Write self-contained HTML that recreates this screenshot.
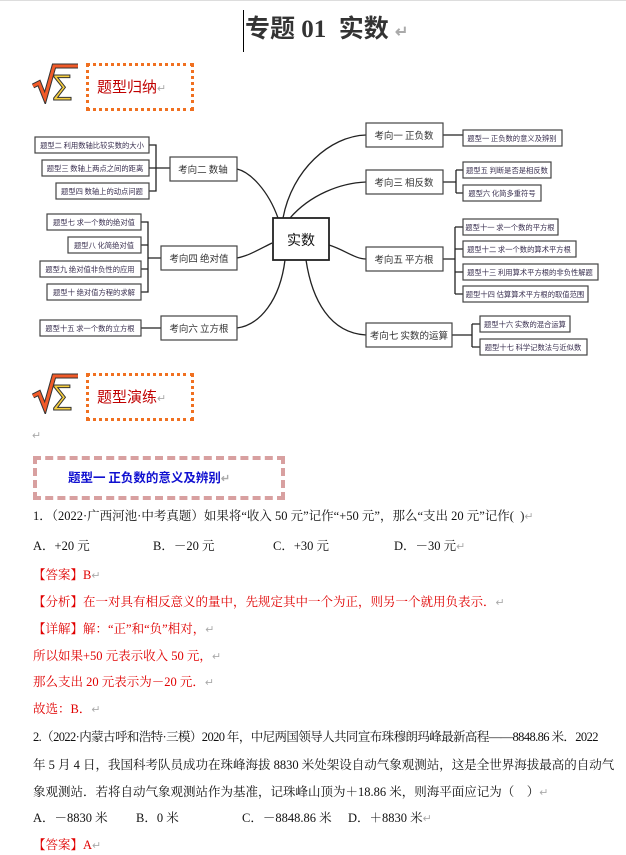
<!DOCTYPE html>
<html><head><meta charset="utf-8"><style>
body{margin:0;width:626px;height:855px;background:#fff;position:relative;overflow:hidden;font-family:"Liberation Serif","Noto Serif CJK SC","Noto Sans CJK SC",serif;}
.t{position:absolute;white-space:nowrap;font-size:12.5px;line-height:16px;color:#111;}
.r{color:#e00000;}
.pm{color:#aaa;font-size:11px;}
.hd{position:absolute;border:3px dotted #f07020;}
.hdt{position:absolute;color:#c00000;font-size:15px;font-family:"Noto Sans CJK SC",sans-serif;white-space:nowrap;}
svg text{font-family:"Noto Sans CJK SC",sans-serif;}
</style></head><body>
<div style="position:absolute;left:0;top:0;width:626px;height:1px;background:#ddd"></div>
<div style="position:absolute;left:243px;top:10px;width:1px;height:42px;background:#000"></div>
<div class="t" style="left:245px;top:14px;font-size:25px;line-height:32px;font-weight:bold;color:#333;font-family:'Liberation Serif','Noto Sans CJK SC',serif">专题 01&nbsp; 实数 <span class="pm" style="font-size:16px">↵</span></div>

<svg style="position:absolute;left:30px;top:62px" width="50" height="42" viewBox="0 0 50 42">
<path d="M3 24 L9 21 L15 36 L24 4 L48 4" fill="none" stroke="#333" stroke-width="5"/>
<path d="M3 24 L9 21 L15 36 L24 4 L48 4" fill="none" stroke="#f05a28" stroke-width="3"/>
<text x="22" y="38" font-size="34" fill="#f8d040" stroke="#333" stroke-width="1" font-family="Liberation Serif">Σ</text></svg>
<div class="hd" style="left:86px;top:63px;width:102px;height:42px"></div>
<div class="hdt" style="left:97px;top:76px">题型归纳<span class="pm">↵</span></div>

<svg style="position:absolute;left:0;top:110px" width="626" height="250" viewBox="0 110 626 250" font-size="7.3" fill="#333">
<g fill="none" stroke="#222" stroke-width="1.3">
<path d="M278 218 C268 190 250 172 237 169"/>
<path d="M272 243 C258 250 248 256 237 258"/>
<path d="M285 260 C280 300 260 325 237 328"/>
<path d="M283 218 C292 170 330 136 366 135"/>
<path d="M290 218 C310 195 340 183 366 182"/>
<path d="M329 245 C345 250 355 259 366 259"/>
<path d="M306 260 C312 300 330 333 366 335"/>
<path d="M149 145 H156 V191 H149 M149 168 H170"/>
<path d="M141 222 H148 V292 H141 M141 245 H148 M141 269 H148 M148 258 H161"/>
<path d="M141 328 H161"/>
<path d="M443 135 H463"/>
<path d="M443 182 H456 M456 170 V193 M456 170 H463 M456 193 H463"/>
<path d="M443 259 H455 M455 227 V294 M455 227 H463 M455 249 H463 M455 272 H463 M455 294 H463"/>
<path d="M452 335 H472 M472 324 V347 M472 324 H480 M472 347 H480"/>
</g>
<g fill="#fff" stroke="#444" stroke-width="1.2">
<rect x="273" y="218" width="56" height="42" stroke-width="1.8" stroke="#222"/>
<rect x="170" y="157" width="67" height="24"/><rect x="161" y="246" width="76" height="24"/><rect x="161" y="316" width="76" height="24"/>
<rect x="366" y="123" width="77" height="24"/><rect x="366" y="170" width="77" height="24"/><rect x="366" y="247" width="77" height="24"/><rect x="366" y="323" width="86" height="24"/>
<rect x="35" y="137" width="114" height="16"/><rect x="42" y="160" width="107" height="16"/><rect x="56" y="183" width="93" height="16"/>
<rect x="47" y="214" width="94" height="16"/><rect x="68" y="237" width="73" height="16"/><rect x="40" y="261" width="101" height="16"/><rect x="47" y="284" width="94" height="16"/>
<rect x="40" y="320" width="101" height="16"/>
<rect x="463" y="130" width="99" height="16"/><rect x="463" y="162" width="88" height="16"/><rect x="463" y="185" width="78" height="16"/>
<rect x="463" y="219" width="95" height="16"/><rect x="463" y="241" width="113" height="16"/><rect x="463" y="264" width="135" height="16"/><rect x="463" y="286" width="125" height="16"/>
<rect x="480" y="316" width="90" height="16"/><rect x="480" y="339" width="107" height="16"/>
</g>
<text x="301" y="245" font-size="14" text-anchor="middle" fill="#111">实数</text>
<g font-size="9.5" text-anchor="middle">
<text x="203" y="173">考向二 数轴</text><text x="199" y="262">考向四 绝对值</text><text x="199" y="332">考向六 立方根</text>
<text x="404" y="139">考向一 正负数</text><text x="404" y="186">考向三 相反数</text><text x="404" y="263">考向五 平方根</text><text x="409" y="339">考向七 实数的运算</text>
</g>
<g text-anchor="middle" fill="#3a3050">
<text x="92" y="148">题型二 利用数轴比较实数的大小</text><text x="95" y="171">题型三 数轴上两点之间的距离</text><text x="102" y="194">题型四 数轴上的动点问题</text>
<text x="94" y="225">题型七 求一个数的绝对值</text><text x="104" y="248">题型八 化简绝对值</text><text x="90" y="272">题型九 绝对值非负性的应用</text><text x="94" y="295">题型十 绝对值方程的求解</text>
<text x="90" y="331">题型十五 求一个数的立方根</text>
<text x="512" y="141">题型一 正负数的意义及辨别</text><text x="507" y="173">题型五 判断是否是相反数</text><text x="502" y="196">题型六 化简多重符号</text>
<text x="510" y="230">题型十一 求一个数的平方根</text><text x="519" y="252">题型十二 求一个数的算术平方根</text><text x="530" y="275">题型十三 利用算术平方根的非负性解题</text><text x="525" y="297">题型十四 估算算术平方根的取值范围</text>
<text x="525" y="327">题型十六 实数的混合运算</text><text x="533" y="350">题型十七 科学记数法与近似数</text>
</g></svg>

<svg style="position:absolute;left:30px;top:372px" width="50" height="42" viewBox="0 0 50 42">
<path d="M3 24 L9 21 L15 36 L24 4 L48 4" fill="none" stroke="#333" stroke-width="5"/>
<path d="M3 24 L9 21 L15 36 L24 4 L48 4" fill="none" stroke="#f05a28" stroke-width="3"/>
<text x="22" y="38" font-size="34" fill="#f8d040" stroke="#333" stroke-width="1" font-family="Liberation Serif">Σ</text></svg>
<div class="hd" style="left:86px;top:373px;width:102px;height:42px"></div>
<div class="hdt" style="left:97px;top:386px">题型演练<span class="pm">↵</span></div>
<div class="t pm" style="left:32px;top:428px">↵</div>

<div style="position:absolute;left:33px;top:456px;width:244px;height:36px;border:4px dashed #d8a0a0"></div>
<div class="t" style="left:68px;top:469px;color:#1010d0;font-weight:bold;font-family:'Noto Sans CJK SC',sans-serif;font-size:12.5px">题型一 正负数的意义及辨别<span class="pm">↵</span></div>

<div class="t" style="left:33px;top:508px">1．（2022·广西河池·中考真题）如果将“收入 50 元”记作“+50 元”，那么“支出 20 元”记作(&nbsp; )<span class="pm">↵</span></div>
<div class="t" style="left:33px;top:538px">A．+20 元</div><div class="t" style="left:153px;top:538px">B．－20 元</div><div class="t" style="left:273px;top:538px">C．+30 元</div><div class="t" style="left:394px;top:538px">D．－30 元<span class="pm">↵</span></div>
<div class="t r" style="left:33px;top:567px">【答案】B<span class="pm">↵</span></div>
<div class="t r" style="left:33px;top:594px">【分析】在一对具有相反意义的量中，先规定其中一个为正，则另一个就用负表示．<span class="pm">↵</span></div>
<div class="t r" style="left:33px;top:621px">【详解】解：“正”和“负”相对，<span class="pm">↵</span></div>
<div class="t r" style="left:33px;top:648px">所以如果+50 元表示收入 50 元，<span class="pm">↵</span></div>
<div class="t r" style="left:33px;top:674px">那么支出 20 元表示为－20 元．<span class="pm">↵</span></div>
<div class="t r" style="left:33px;top:701px">故选：B．<span class="pm">↵</span></div>
<div class="t" style="left:33px;top:729px;letter-spacing:-0.6px">2.（2022·内蒙古呼和浩特·三模）2020 年，中尼两国领导人共同宣布珠穆朗玛峰最新高程——8848.86 米．2022</div>
<div class="t" style="left:33px;top:757px">年 5 月 4 日，我国科考队员成功在珠峰海拔 8830 米处架设自动气象观测站，这是全世界海拔最高的自动气</div>
<div class="t" style="left:33px;top:784px">象观测站．若将自动气象观测站作为基准，记珠峰山顶为＋18.86 米，则海平面应记为（&nbsp;&nbsp;&nbsp; ）<span class="pm">↵</span></div>
<div class="t" style="left:33px;top:810px">A．－8830 米</div><div class="t" style="left:136px;top:810px">B．0 米</div><div class="t" style="left:242px;top:810px">C．－8848.86 米</div><div class="t" style="left:348px;top:810px">D．＋8830 米<span class="pm">↵</span></div>
<div class="t r" style="left:33px;top:837px">【答案】A<span class="pm">↵</span></div>
</body></html>
